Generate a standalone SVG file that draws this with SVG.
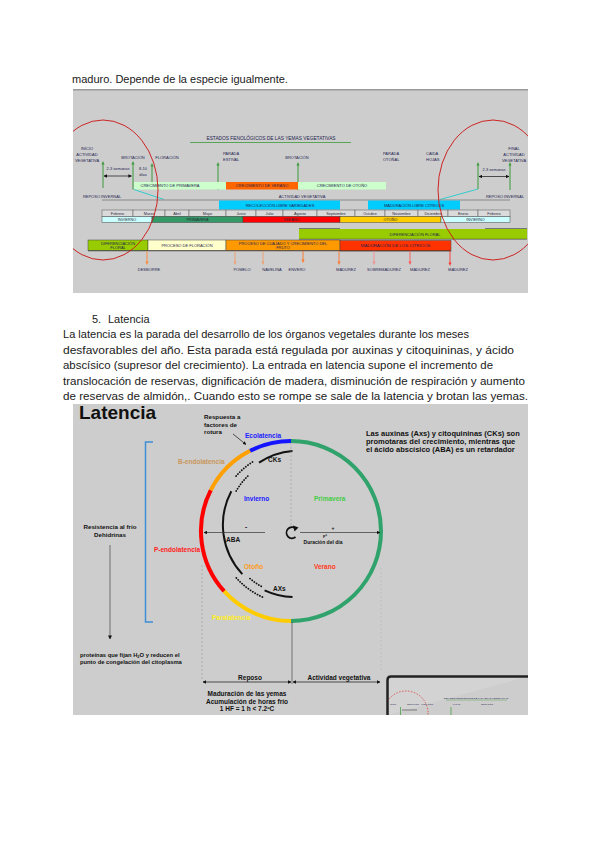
<svg xmlns="http://www.w3.org/2000/svg" width="600" height="848" viewBox="0 0 600 848">
<defs>
<style>
text{font-family:"Liberation Sans",Arial,sans-serif}
.p{font-size:11px;fill:#1a1a1a}
.t{font-size:4px;fill:#1f1f50}
.tc{font-size:4px;fill:#1f1f50;text-anchor:middle}
.m{font-size:3.8px;fill:#2a2a3a;text-anchor:middle}
.b{font-weight:bold;font-size:6.5px;fill:#111}
.bc{font-weight:bold;font-size:6.5px;fill:#111;text-anchor:middle}
.cell{fill:#dadada;stroke:#555;stroke-width:0.5}
.bar{stroke:#444;stroke-width:0.5}
.ga{stroke:#3a9a3a;stroke-width:1}
.gah{fill:#3a9a3a}
.dim{stroke:#111;stroke-width:0.7;fill:none}
.dash{stroke:#999;stroke-width:0.6;stroke-dasharray:2 2;fill:none}
.arc{fill:none;stroke-width:4}
.inner{fill:none;stroke:#111;stroke-width:2}
.dots{fill:none;stroke:#111;stroke-width:1.8;stroke-dasharray:0.1 2.6;stroke-linecap:round}
</style>
<clipPath id="topclip"><rect x="73" y="89" width="455" height="204"/></clipPath>
<clipPath id="insetclip"><rect x="388" y="677" width="140" height="38"/></clipPath>
<marker id="ah" viewBox="0 0 10 10" refX="9" refY="5" markerWidth="5" markerHeight="5" orient="auto-start-reverse"><path d="M0,0 L10,5 L0,10 z" fill="#111"/></marker>
</defs>
<rect width="600" height="848" fill="#fff"/>

<g id="page-text">
<text class="p" x="72" y="82.5">maduro. Depende de la especie igualmente.</text>
<text class="p" x="92" y="322.5">5.</text>
<text class="p" x="108" y="322.5">Latencia</text>
<text class="p" x="63" y="338" textLength="406" lengthAdjust="spacingAndGlyphs">La latencia es la parada del desarrollo de los órganos vegetales durante los meses</text>
<text class="p" x="63" y="353.5" textLength="451" lengthAdjust="spacingAndGlyphs">desfavorables del año. Esta parada está regulada por auxinas y citoquininas, y ácido</text>
<text class="p" x="63" y="369" textLength="430" lengthAdjust="spacingAndGlyphs">abscísico (supresor del crecimiento). La entrada en latencia supone el incremento de</text>
<text class="p" x="63" y="384.5" textLength="462" lengthAdjust="spacingAndGlyphs">translocación de reservas, dignificación de madera, disminución de respiración y aumento</text>
<text class="p" x="63" y="400" textLength="465" lengthAdjust="spacingAndGlyphs">de reservas de almidón,. Cuando esto se rompe se sale de la latencia y brotan las yemas.</text>
</g>

<!-- ============ TOP PHENOLOGY DIAGRAM ============ -->
<g id="phenology">
<rect x="73" y="89" width="455" height="204" fill="#cdcdcd"/>
<line x1="73" y1="89.7" x2="528" y2="89.7" stroke="#9a9a9a" stroke-width="1.4"/>

<text class="tc" x="271" y="140" style="font-size:4.8px">ESTADOS FENOLÓGICOS DE LAS YEMAS VEGETATIVAS</text>
<line x1="190" y1="142.5" x2="351" y2="142.5" stroke="#3a9a3a" stroke-width="0.8"/>

<g id="stage-labels">
<text class="tc" x="87" y="149.5">INICIO</text>
<text class="tc" x="87" y="155.5">ACTIVIDAD</text>
<text class="tc" x="87" y="161.5">VEGETATIVA</text>
<text class="tc" x="133" y="158.5">BROTACIÓN</text>
<text class="tc" x="167" y="158.5">FLORACIÓN</text>
<text class="t" x="223" y="154.5">PARADA</text>
<text class="t" x="223" y="161">ESTIVAL</text>
<text class="tc" x="297" y="158.5">BROTACIÓN</text>
<text class="t" x="383" y="154.5">PARADA</text>
<text class="t" x="383" y="161">OTOÑAL</text>
<text class="t" x="426" y="154.5">CAÍDA</text>
<text class="t" x="426" y="161">HOJAS</text>
<text class="tc" x="514" y="149.5">FINAL</text>
<text class="tc" x="514" y="155.5">ACTIVIDAD</text>
<text class="tc" x="514" y="161.5">VEGETATIVA</text>
<text class="tc" x="118" y="170">2-3 semanas</text>
<text class="tc" x="143" y="170">8-10</text>
<text class="tc" x="143" y="175.5">días</text>
<text class="tc" x="494" y="171">2-3 semanas</text>
</g>

<g id="green-arrows">
<line class="ga" x1="103" y1="188" x2="103" y2="164"/><polygon class="gah" points="101.5,164.5 103,161 104.5,164.5"/>
<line class="ga" x1="133" y1="189.5" x2="133" y2="164"/><polygon class="gah" points="131.5,164.5 133,161 134.5,164.5"/>
<line class="ga" x1="152" y1="189" x2="152" y2="166"/><polygon class="gah" points="150.5,166.5 152,163 153.5,166.5"/>
<line class="ga" x1="218" y1="190" x2="218" y2="165"/><polygon class="gah" points="216.5,165.5 218,162 219.5,165.5"/>
<line class="ga" x1="298" y1="190" x2="298" y2="165"/><polygon class="gah" points="296.5,165.5 298,162 299.5,165.5"/>
<line class="ga" x1="478" y1="189" x2="478" y2="165"/><polygon class="gah" points="476.5,165.5 478,162 479.5,165.5"/>
<line class="ga" x1="510" y1="190" x2="510" y2="165"/><polygon class="gah" points="508.5,165.5 510,162 511.5,165.5"/>
</g>

<line class="dim" x1="104" y1="176" x2="131.5" y2="176" marker-start="url(#ah)" marker-end="url(#ah)"/>
<line class="dim" x1="479" y1="176.5" x2="509" y2="176.5" marker-start="url(#ah)" marker-end="url(#ah)"/>

<g id="growth-bars">
<rect x="134" y="182" width="92" height="7.5" fill="#ccffcc"/>
<rect x="226" y="182" width="72" height="7.5" fill="#ff6600"/>
<rect x="298" y="182" width="88" height="7.5" fill="#ccffcc"/>
<text class="tc" x="170" y="187.3">CRECIMIENTO DE PRIMAVERA</text>
<text class="tc" x="262" y="187.3">CRECIMIENTO DE VERANO</text>
<text class="tc" x="342" y="187.3">CRECIMIENTO DE OTOÑO</text>
</g>

<line x1="134" y1="189.5" x2="164" y2="199.5" stroke="#33cccc" stroke-width="1"/>
<line x1="478" y1="189" x2="440" y2="199.5" stroke="#33cccc" stroke-width="1"/>

<text class="tc" x="102" y="197.5">REPOSO INVERNAL</text>
<text class="tc" x="302" y="197.5">ACTIVIDAD VEGETATIVA</text>
<text class="tc" x="505" y="197.5">REPOSO INVERNAL</text>
<line x1="102" y1="200" x2="510" y2="200" stroke="#8a8a8a" stroke-width="1.2"/>

<rect x="219" y="200.5" width="121" height="9" fill="#00ccff"/>
<rect x="368" y="200.5" width="92" height="9" fill="#00ccff"/>
<text class="tc" x="280" y="206.5">RECOLECCIÓN LIBRE VARIEDADES</text>
<text class="tc" x="414" y="206.5">MADURACIÓN LIBRE CÍTRICOS</text>

<g id="months">
<rect class="cell" x="102" y="210" width="31" height="6.5"/>
<rect class="cell" x="133" y="210" width="32" height="6.5"/>
<rect class="cell" x="165" y="210" width="24" height="6.5"/>
<rect class="cell" x="189" y="210" width="37" height="6.5"/>
<rect class="cell" x="226" y="210" width="30" height="6.5"/>
<rect class="cell" x="256" y="210" width="27" height="6.5"/>
<rect class="cell" x="283" y="210" width="34" height="6.5"/>
<rect class="cell" x="317" y="210" width="38" height="6.5"/>
<rect class="cell" x="355" y="210" width="30" height="6.5"/>
<rect class="cell" x="385" y="210" width="33" height="6.5"/>
<rect class="cell" x="418" y="210" width="30" height="6.5"/>
<rect class="cell" x="448" y="210" width="30" height="6.5"/>
<rect class="cell" x="478" y="210" width="32" height="6.5"/>
<text class="m" x="117.5" y="214.8">Febrero</text>
<text class="m" x="149" y="214.8">Marzo</text>
<text class="m" x="177" y="214.8">Abril</text>
<text class="m" x="207.5" y="214.8">Mayo</text>
<text class="m" x="241" y="214.8">Junio</text>
<text class="m" x="269.5" y="214.8">Julio</text>
<text class="m" x="300" y="214.8">Agosto</text>
<text class="m" x="336" y="214.8">Septiembre</text>
<text class="m" x="370" y="214.8">Octubre</text>
<text class="m" x="401.5" y="214.8">Noviembre</text>
<text class="m" x="433" y="214.8">Diciembre</text>
<text class="m" x="463" y="214.8">Enero</text>
<text class="m" x="494" y="214.8">Febrero</text>
</g>

<g id="seasons">
<rect class="bar" x="102" y="216.5" width="50" height="6" fill="#ccffff"/>
<rect class="bar" x="152" y="216.5" width="91" height="6" fill="#339966"/>
<rect class="bar" x="243" y="216.5" width="97" height="6" fill="#ff0000"/>
<rect class="bar" x="340" y="216.5" width="101" height="6" fill="#ffcc00"/>
<rect class="bar" x="441" y="216.5" width="69" height="6" fill="#ccffff"/>
<text class="m" x="127" y="221">INVIERNO</text>
<text class="m" x="197.5" y="221">PRIMAVERA</text>
<text class="m" x="291.5" y="221">VERANO</text>
<text class="m" x="390.5" y="221">OTOÑO</text>
<text class="m" x="475.5" y="221">INVIERNO</text>
</g>

<line x1="299" y1="228.5" x2="340" y2="228.5" stroke="#777" stroke-width="1"/>
<line x1="485" y1="228.5" x2="527" y2="228.5" stroke="#777" stroke-width="1"/>
<rect x="299" y="229" width="228" height="10" fill="#99cc00"/>
<line x1="299" y1="239.2" x2="527" y2="239.2" stroke="#333" stroke-width="0.6"/>
<text class="tc" x="415" y="235.5">DIFERENCIACIÓN FLORAL</text>

<g id="fruit-bars">
<rect class="bar" x="88" y="240" width="60" height="10.5" fill="#99cc00"/>
<rect class="bar" x="148" y="240" width="78" height="10.5" fill="#ffffcc"/>
<rect class="bar" x="226" y="240" width="114" height="10.5" fill="#ff9900"/>
<rect class="bar" x="340" y="240.5" width="111" height="10.5" fill="#ff3300"/>
<line x1="88" y1="250.8" x2="451" y2="250.8" stroke="#333" stroke-width="0.7"/>
<text class="tc" x="118" y="244.5">DIFERENCIACIÓN</text>
<text class="tc" x="118" y="249">FLORAL</text>
<text class="tc" x="187" y="246.8">PROCESO DE FLORACIÓN</text>
<text class="tc" x="283" y="244.5">PROCESO DE CUAJADO Y CRECIMIENTO DEL</text>
<text class="tc" x="283" y="249">FRUTO</text>
<text class="tc" x="395.5" y="247.3" style="font-size:4.4px">MADURACIÓN DE LOS CÍTRICOS</text>
</g>

<g id="fruit-arrows">
<line x1="147" y1="251" x2="147" y2="262" stroke="#ff8833" stroke-width="0.9"/><polygon points="145.5,261.5 147,265 148.5,261.5" fill="#ff8833"/>
<line x1="235" y1="251" x2="235" y2="262" stroke="#f0a070" stroke-width="0.9"/><polygon points="233.5,261.5 235,265 236.5,261.5" fill="#f0a070"/>
<line x1="263" y1="251" x2="263" y2="262" stroke="#f0a070" stroke-width="0.9"/><polygon points="261.5,261.5 263,265 264.5,261.5" fill="#f0a070"/>
<line x1="303" y1="251" x2="303" y2="260" stroke="#ff7722" stroke-width="0.9"/><polygon points="301.5,259.5 303,263 304.5,259.5" fill="#ff7722"/>
<line x1="339" y1="251" x2="339" y2="262" stroke="#ff7733" stroke-width="0.9"/><polygon points="337.5,261.5 339,265 340.5,261.5" fill="#ff7733"/>
<line x1="374" y1="251" x2="374" y2="262" stroke="#f09090" stroke-width="0.9"/><polygon points="372.5,261.5 374,265 375.5,261.5" fill="#f09090"/>
<line x1="410" y1="251" x2="410" y2="262" stroke="#ff5555" stroke-width="0.9"/><polygon points="408.5,261.5 410,265 411.5,261.5" fill="#ff5555"/>
<line x1="450" y1="251" x2="450" y2="263" stroke="#ff3333" stroke-width="0.9"/><polygon points="448.5,262.5 450,266 451.5,262.5" fill="#ff3333"/>
<text class="tc" x="149" y="270.5">DESBORRE</text>
<text class="tc" x="242" y="270.5">POMELO</text>
<text class="tc" x="272" y="270.5">NAVELINA</text>
<text class="tc" x="297" y="270.5">ENVERO</text>
<text class="tc" x="346" y="270.5">MADUREZ</text>
<text class="tc" x="384" y="271">SOBREMADUREZ</text>
<text class="tc" x="420" y="270.5">MADUREZ</text>
<text class="tc" x="458" y="270.5">MADUREZ</text>
</g>

<g clip-path="url(#topclip)">
<ellipse cx="103" cy="190" rx="55" ry="70" fill="none" stroke="#cc1111" stroke-width="0.9"/>
<ellipse cx="493" cy="190" rx="55" ry="70" fill="none" stroke="#cc1111" stroke-width="0.9"/>
</g>
</g>

<!-- ============ LATENCIA DIAGRAM ============ -->
<g id="latencia">
<rect x="73" y="404" width="455" height="311" fill="#cdcdcd"/>
<text x="79" y="419" style="font-size:19px;font-weight:bold;fill:#111">Latencia</text>

<g id="cycle-ring">
<path class="arc" stroke="#2fa36b" d="M291,441 A90,90 0 0 1 291,621"/>
<path class="arc" stroke="#ffcc00" d="M291,621 A90,90 0 0 1 224.1,591.2"/>
<path class="arc" stroke="#ff0000" d="M224.1,591.2 A90,90 0 0 1 210.8,490.1"/>
<path class="arc" stroke="#ffa000" d="M210.8,490.1 A90,90 0 0 1 250.1,450.8"/>
<path class="arc" stroke="#1414ff" d="M250.1,450.8 A90,90 0 0 1 291,441"/>
</g>

<g id="hormone-arcs">
<path class="inner" d="M292.5,451 A72,72 0 0 0 259,462.6"/>
<path class="dots" d="M252.5,462 A76,76 0 0 0 235.1,477.2"/>
<path class="dots" d="M247.8,476.1 A68,68 0 0 0 235,493.1"/>
<path class="inner" d="M231.3,491.2 A72,72 0 0 0 242.3,574.1"/>
<path class="dots" d="M236.3,577.9 A79,79 0 0 0 262.8,597.2"/>
<path class="dots" d="M250,578.6 A70,70 0 0 0 263.2,587.4"/>
<path class="inner" d="M264.6,590.3 A72,72 0 0 0 292.5,597"/>
</g>

<g id="labels">
<text class="b" x="204" y="419" style="font-size:6.2px">Respuesta a</text>
<text class="b" x="204" y="426.5" style="font-size:6.2px">factores de</text>
<text class="b" x="204" y="434" style="font-size:6.2px">rotura</text>
<text class="b" x="245" y="437.5" style="fill:#1a1aff">Ecolatencia</text>
<text class="b" x="178" y="464" style="fill:#c9975a">B-endolatencia</text>
<text class="b" x="268" y="462">CKs</text>
<text class="b" x="244" y="501" style="fill:#1a1aff">Invierno</text>
<text class="b" x="314" y="501" style="fill:#44cc44">Primavera</text>
<text class="b" x="245" y="529">-</text>
<text class="b" x="226" y="541.5">ABA</text>
<text class="b" x="154" y="551.5" style="fill:#ff2020">P-endolatencia</text>
<text class="b" x="244" y="569" style="fill:#ff9a20">Otoño</text>
<text class="b" x="314" y="569" style="fill:#ff3a1a">Verano</text>
<text class="b" x="273" y="590.5">AXs</text>
<text class="b" x="212" y="619.5" style="fill:#ffee22">Paralatencia</text>
<text class="bc" x="110" y="529" style="font-size:6.2px">Resistencia al frío</text>
<text class="bc" x="110" y="537" style="font-size:6.2px">Dehidrinas</text>
<text class="b" x="80" y="656.5" style="font-size:5.8px">proteínas que fijan H<tspan font-size="4" dy="1">2</tspan><tspan dy="-1">O y reducen el</tspan></text>
<text class="b" x="80" y="664" style="font-size:5.8px">punto de congelación del citoplasma</text>
<text class="b" x="366" y="436" style="font-size:7.5px">Las auxinas (Axs) y citoquininas (CKs) son</text>
<text class="b" x="366" y="443.8" style="font-size:7.5px">promotaras del crecimiento, mientras que</text>
<text class="b" x="366" y="451.6" style="font-size:7.5px">el ácido abscísico (ABA) es un retardador</text>
<text class="b" x="331.5" y="529.5" style="font-size:5px">+</text>
<text class="b" x="323" y="538" style="font-size:4px">Fº</text>
<text class="bc" x="323" y="544" style="font-size:5px">Duración del día</text>
<text class="bc" x="250" y="680">Reposo</text>
<text class="bc" x="339" y="680">Actividad vegetativa</text>
<text class="bc" x="247" y="695.5">Maduración de las yemas</text>
<text class="bc" x="247" y="703.5">Acumulación de horas frío</text>
<text class="bc" x="247" y="711">1 HF = 1 h &lt; 7.2ºC</text>
</g>

<g id="connectors">
<line x1="233" y1="434" x2="246" y2="444.5" stroke="#111" stroke-width="0.7" marker-end="url(#ah)"/>
<line x1="265" y1="532.5" x2="204" y2="532.5" stroke="#333" stroke-width="0.7" marker-end="url(#ah)"/>
<line x1="300" y1="532.5" x2="380" y2="532.5" stroke="#333" stroke-width="0.7" marker-end="url(#ah)"/>
<line class="dash" x1="291" y1="443" x2="291" y2="525"/>
<line class="dash" x1="202" y1="565" x2="202" y2="680"/>
<line class="dash" x1="381" y1="568" x2="381" y2="670" style="stroke:#b5b5b5"/>
<line x1="292" y1="622" x2="292" y2="684" stroke="#333" stroke-width="0.6"/>
<line class="dim" x1="203" y1="682" x2="291" y2="682" marker-start="url(#ah)" marker-end="url(#ah)"/>
<line class="dim" x1="293" y1="682" x2="380" y2="682" marker-start="url(#ah)" marker-end="url(#ah)"/>
<path d="M153,442 H145.5 V622 H153" fill="none" stroke="#3d8fd6" stroke-width="1.5"/>
<line x1="110" y1="545" x2="110" y2="639" stroke="#555" stroke-width="0.8" marker-end="url(#ah)"/>
<path d="M295.5,528.5 A5.5,5.5 0 1 0 295.5,537" fill="none" stroke="#111" stroke-width="1.8"/>
<polygon points="293,525.5 298.5,527.5 294.5,531.5" fill="#111"/>
</g>

<g id="inset">
<path d="M387.5,715 V680 Q387.5,676.5 391,676.5 H528" fill="#d3d3d3" stroke="#222" stroke-width="2.5"/>
<g clip-path="url(#insetclip)">
<circle cx="406" cy="713" r="22" fill="none" stroke="#dd2222" stroke-width="0.7" stroke-dasharray="1.5 1.5"/>
<text class="tc" x="476" y="699" style="font-size:2.4px">ESTADOS FENOLÓGICOS DE LAS YEMAS VEGETATIVAS</text>
<line x1="446" y1="700" x2="507" y2="700" stroke="#3a9a3a" stroke-width="0.4"/>
<text class="tc" x="393" y="705" style="font-size:2px">INICIO</text>
<text class="tc" x="413" y="705" style="font-size:2px">BROTACIÓN</text>
<text class="tc" x="427" y="705" style="font-size:2px">FLORACIÓN</text>
<text class="tc" x="457" y="705" style="font-size:2px">PARADA</text>
<text class="tc" x="487" y="705" style="font-size:2px">BROTACIÓN</text>
<line x1="400.5" y1="707" x2="400.5" y2="715" stroke="#3a9a3a" stroke-width="0.7"/>
<line x1="451" y1="707" x2="451" y2="715" stroke="#3a9a3a" stroke-width="0.7"/>
<line x1="402" y1="710" x2="417" y2="710" stroke="#222" stroke-width="0.5"/>
</g>
</g>
</g>
</svg>
